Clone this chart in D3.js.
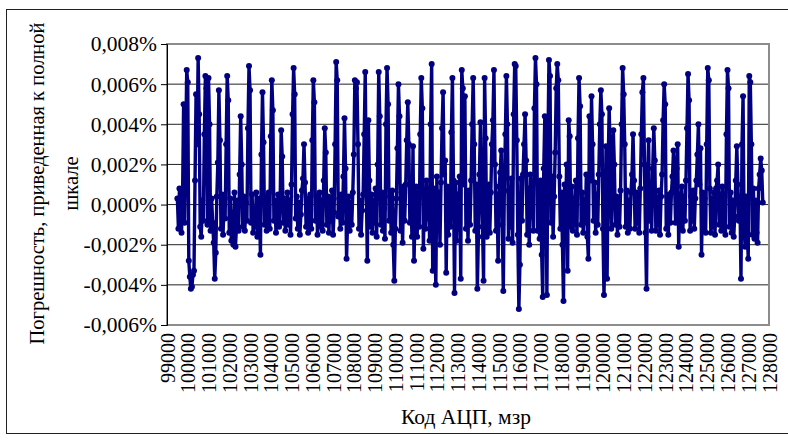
<!DOCTYPE html>
<html>
<head>
<meta charset="utf-8">
<script src="https://cdn.jsdelivr.net/npm/d3@7"></script>
<style>
  body { margin: 0; background: #fff; }
  svg text { font-family: "Liberation Serif", "Times New Roman", "DejaVu Serif", serif; fill: #000; }
</style>
</head>
<body>
<svg id="chart"></svg>
<script>
// Погрешность АЦП, приведенная к полной шкале (%)
const yTicks = [-0.006, -0.004, -0.002, 0, 0.002, 0.004, 0.006, 0.008];
const xTicks = [99000, 100000, 101000, 102000, 103000, 104000, 105000, 106000, 107000, 108000,
    109000, 110000, 111000, 112000, 113000, 114000, 115000, 116000, 117000, 118000,
    119000, 120000, 121000, 122000, 123000, 124000, 125000, 126000, 127000, 128000];

// first code and code step of the measurement
const codeStart = 99500;
const codeStep = 50;

// error values (%), one row per 1000 codes
const errors = [
    0.0003, -0.0012, 0.0008, -0.0006, -0.0014, 0.0004, 0.0050, -0.0009, 0.0028, 0.0067, 0.0061, -0.0028, -0.0036, -0.0042, -0.0041, -0.0035, -0.0033, 0.0012, 0.0055, 0.0030,
    0.0073, 0.0045, -0.0011, -0.0016, 0.0002, -0.0008, 0.0035, 0.0064, 0.0058, -0.0010, 0.0063, 0.0040, -0.0013, 0.0003, -0.0009, -0.0019, -0.0037, -0.0024, 0.0004, 0.0021,
    0.0057, 0.0032, -0.0012, 0.0005, -0.0015, 0.0001, -0.0007, 0.0030, 0.0064, 0.0052, -0.0014, 0.0003, -0.0018, -0.0004, -0.0020, 0.0006, -0.0021, -0.0010, 0.0002, -0.0013,
    0.0015, 0.0044, 0.0020, -0.0011, 0.0004, -0.0013, 0.0001, -0.0008, 0.0038, 0.0069, 0.0057, -0.0009, 0.0005, -0.0014, -0.0002, -0.0011, 0.0006, -0.0016, -0.0005, 0.0003,
    -0.0025, 0.0025, 0.0056, 0.0031, -0.0010, 0.0004, -0.0013, -0.0003, 0.0006, -0.0012, 0.0034, 0.0062, 0.0047, -0.0008, 0.0002, -0.0014, -0.0006, 0.0005, -0.0011, 0.0001,
    0.0037, 0.0024, -0.0009, 0.0003, -0.0013, -0.0004, 0.0006, -0.0010, 0.0002, -0.0015, 0.0010, 0.0045, 0.0068, 0.0055, -0.0007, 0.0004, -0.0012, 0.0001, -0.0015, -0.0005,
    0.0007, 0.0013, 0.0030, 0.0011, -0.0011, 0.0003, -0.0014, -0.0002, 0.0005, -0.0012, 0.0032, 0.0062, 0.0051, -0.0008, 0.0004, -0.0015, -0.0003, 0.0006, -0.0011, 0.0002,
    -0.0013, 0.0012, 0.0038, 0.0026, -0.0010, 0.0004, -0.0014, 0.0002, -0.0008, 0.0007, -0.0015, -0.0004, 0.0030, 0.0071, 0.0062, -0.0006, 0.0003, -0.0012, 0.0005, -0.0009,
    0.0014, 0.0043, 0.0018, -0.0027, -0.0008, 0.0004, -0.0013, 0.0001, -0.0010, 0.0006, 0.0025, 0.0062, 0.0058, 0.0061, 0.0030, -0.0012, 0.0002, -0.0015, -0.0003, 0.0005,
    0.0035, 0.0066, 0.0010, -0.0028, 0.0042, 0.0012, -0.0011, 0.0005, -0.0014, 0.0002, -0.0009, 0.0008, -0.0016, 0.0020, 0.0066, 0.0044, -0.0010, 0.0006, -0.0013, -0.0002,
    -0.0017, 0.0040, 0.0068, 0.0050, -0.0008, 0.0004, -0.0014, 0.0007, -0.0020, -0.0038, -0.0012, 0.0003, 0.0028, 0.0060, 0.0044, -0.0013, 0.0006, -0.0019, 0.0009, -0.0008,
    0.0010, 0.0032, 0.0051, 0.0030, -0.0009, 0.0006, -0.0016, 0.0029, -0.0028, -0.0004, 0.0009, -0.0016, 0.0004, -0.0011, 0.0035, 0.0063, 0.0048, -0.0022, 0.0003, -0.0012,
    0.0012, -0.0007, 0.0008, -0.0018, 0.0040, 0.0070, -0.0033, 0.0008, -0.0015, -0.0040, 0.0014, -0.0011, 0.0006, -0.0020, 0.0011, 0.0038, 0.0056, 0.0015, 0.0022, -0.0034,
    0.0009, -0.0015, 0.0007, -0.0011, 0.0036, 0.0063, 0.0012, -0.0044, 0.0011, -0.0018, 0.0005, -0.0012, 0.0014, -0.0037, 0.0067, 0.0058, 0.0010, 0.0054, -0.0012, 0.0006,
    -0.0018, 0.0007, -0.0010, 0.0012, 0.0040, 0.0063, 0.0030, -0.0013, 0.0010, -0.0042, -0.0016, 0.0015, 0.0041, 0.0008, -0.0011, -0.0038, 0.0063, 0.0033, -0.0016, 0.0004,
    0.0010, -0.0014, 0.0006, 0.0030, 0.0042, 0.0067, 0.0020, -0.0013, 0.0005, -0.0028, 0.0009, 0.0016, 0.0027, -0.0010, -0.0043, 0.0007, 0.0035, 0.0064, 0.0040, -0.0017,
    0.0006, -0.0011, 0.0013, -0.0019, 0.0045, 0.0070, 0.0069, 0.0032, -0.0015, -0.0052, -0.0030, 0.0013, -0.0008, 0.0015, 0.0030, 0.0045, 0.0022, -0.0015, 0.0008, -0.0020,
    0.0015, -0.0006, 0.0010, -0.0013, 0.0048, 0.0073, 0.0060, -0.0013, 0.0010, -0.0017, 0.0012, -0.0025, -0.0046, 0.0018, 0.0044, 0.0025, -0.0045, 0.0030, 0.0072, 0.0064,
    -0.0009, 0.0014, -0.0016, 0.0004, 0.0026, 0.0058, 0.0070, 0.0062, 0.0014, -0.0012, 0.0006, -0.0020, -0.0048, 0.0010, -0.0008, 0.0020, -0.0033, 0.0042, 0.0034, -0.0011,
    0.0009, -0.0013, 0.0003, -0.0010, 0.0012, -0.0015, 0.0033, 0.0063, 0.0049, -0.0010, 0.0006, -0.0014, 0.0002, -0.0009, 0.0015, -0.0016, -0.0027, 0.0044, 0.0012, 0.0054,
    0.0030, -0.0008, 0.0011, -0.0014, 0.0005, -0.0010, 0.0015, 0.0040, 0.0057, 0.0045, -0.0012, -0.0045, -0.0020, 0.0029, -0.0037, 0.0018, 0.0048, 0.0026, -0.0012, 0.0008,
    0.0037, 0.0020, -0.0010, 0.0004, -0.0015, 0.0002, -0.0011, 0.0007, 0.0040, 0.0068, 0.0055, 0.0030, -0.0011, 0.0007, -0.0014, 0.0002, -0.0012, 0.0006, 0.0015, 0.0035,
    0.0012, -0.0012, 0.0006, -0.0009, 0.0004, -0.0014, 0.0008, 0.0035, 0.0056, 0.0063, 0.0020, -0.0014, -0.0042, 0.0012, 0.0032, -0.0008, 0.0005, -0.0013, 0.0018, 0.0038,
    0.0022, -0.0013, 0.0003, -0.0010, 0.0007, -0.0015, 0.0004, 0.0015, 0.0042, 0.0060, 0.0050, -0.0012, 0.0004, -0.0015, 0.0005, -0.0009, 0.0006, 0.0014, 0.0027, 0.0010,
    -0.0009, 0.0018, 0.0030, -0.0021, 0.0005, -0.0011, 0.0009, -0.0013, 0.0004, -0.0008, 0.0012, 0.0038, 0.0065, 0.0052, -0.0013, 0.0004, -0.0008, 0.0007, -0.0012, 0.0003,
    0.0012, 0.0025, 0.0040, 0.0010, 0.0028, -0.0025, 0.0006, -0.0012, 0.0003, -0.0014, 0.0030, 0.0068, 0.0062, 0.0008, -0.0014, 0.0003, -0.0011, 0.0006, -0.0015, 0.0008,
    0.0012, 0.0020, -0.0010, 0.0005, -0.0013, 0.0009, -0.0011, 0.0004, -0.0015, 0.0035, 0.0067, 0.0058, -0.0011, 0.0006, -0.0014, 0.0002, -0.0016, -0.0006, 0.0012, 0.0029,
    0.0010, -0.0008, 0.0004, -0.0037, 0.0030, 0.0054, -0.0012, -0.0021, 0.0004, -0.0013, -0.0027, 0.0064, 0.0061, 0.0030, -0.0015, 0.0008, -0.0017, 0.0002, -0.0014, -0.0019,
    0.0008, 0.0015, 0.0023, 0.0017, 0.0001
];

const W = 788, H = 440;
const margin = { top: 44, right: 19, bottom: 115, left: 167 },
    width = W - margin.left - margin.right,
    height = H - margin.top - margin.bottom;

const svg = d3.select("#chart").attr("width", W).attr("height", H);

// outer frame
svg.append("rect")
    .attr("x", 6.5).attr("y", 9.5)
    .attr("width", W).attr("height", 424)
    .attr("fill", "none")
    .attr("stroke", "#222")
    .attr("stroke-width", 1);

const g = svg.append("g").attr("transform", `translate(${margin.left},${margin.top})`);

const x = d3.scaleLinear().domain([99000, 128000]).range([0, width]);
const y = d3.scaleLinear().domain([-0.006, 0.008]).range([height, 0]);

const fmt = v => (v < 0 ? "-" : "") + Math.abs(v).toFixed(3).replace(".", ",") + "%";

// gridlines
g.append("g")
    .selectAll("line")
    .data(yTicks.slice(1))
    .enter().append("line")
    .attr("x1", 0).attr("x2", width)
    .attr("y1", d => y(d)).attr("y2", d => y(d))
    .attr("stroke", "#222")
    .attr("stroke-width", 1);

// plot border
g.append("rect")
    .attr("width", width).attr("height", height)
    .attr("fill", "none")
    .attr("stroke", "#8c8c8c")
    .attr("stroke-width", 2);

// y axis
const yAxis = g.append("g")
    .call(d3.axisLeft(y).tickValues(yTicks).tickFormat(fmt).tickSize(6).tickPadding(4));
yAxis.select(".domain").attr("stroke", "#000");
yAxis.selectAll("text").style("font-size", "21.5px");

// x axis labels (rotated)
const xAxis = g.append("g").attr("transform", `translate(0,${height})`)
    .call(d3.axisBottom(x).tickValues(xTicks).tickFormat(d3.format("d")).tickSize(0).tickPadding(0));
xAxis.select(".domain").remove();
xAxis.selectAll("text")
    .style("font-size", "20px")
    .attr("text-anchor", "end")
    .attr("transform", "rotate(-90)")
    .attr("x", -8)
    .attr("y", 0)
    .attr("dy", "0.35em");

// series
const data = errors.map((v, i) => ({ code: codeStart + i * codeStep, value: v }));
const line = d3.line().x(d => x(d.code)).y(d => y(d.value));

g.append("path")
    .datum(data)
    .attr("fill", "none")
    .attr("stroke", "#000080")
    .attr("stroke-width", 3.4)
    .attr("stroke-linejoin", "round")
    .attr("d", line);

g.selectAll(".dot")
    .data(data)
    .enter().append("circle")
    .attr("class", "dot")
    .attr("cx", d => x(d.code))
    .attr("cy", d => y(d.value))
    .attr("r", 3)
    .attr("fill", "#000080");

// axis titles
svg.append("text")
    .attr("x", margin.left + width / 2 - 2)
    .attr("y", 424)
    .attr("text-anchor", "middle")
    .style("font-size", "21.5px")
    .text("Код АЦП, мзр");

const yTitle = svg.append("text")
    .attr("transform", `translate(44,${margin.top + height / 2 - 1}) rotate(-90)`)
    .attr("text-anchor", "middle")
    .style("font-size", "20.5px");
yTitle.append("tspan").attr("x", 0).attr("y", 0).text("Погрешность, приведенная к полной");
yTitle.append("tspan").attr("x", 0).attr("y", 34).text("шкале");
</script>
</body>
</html>
